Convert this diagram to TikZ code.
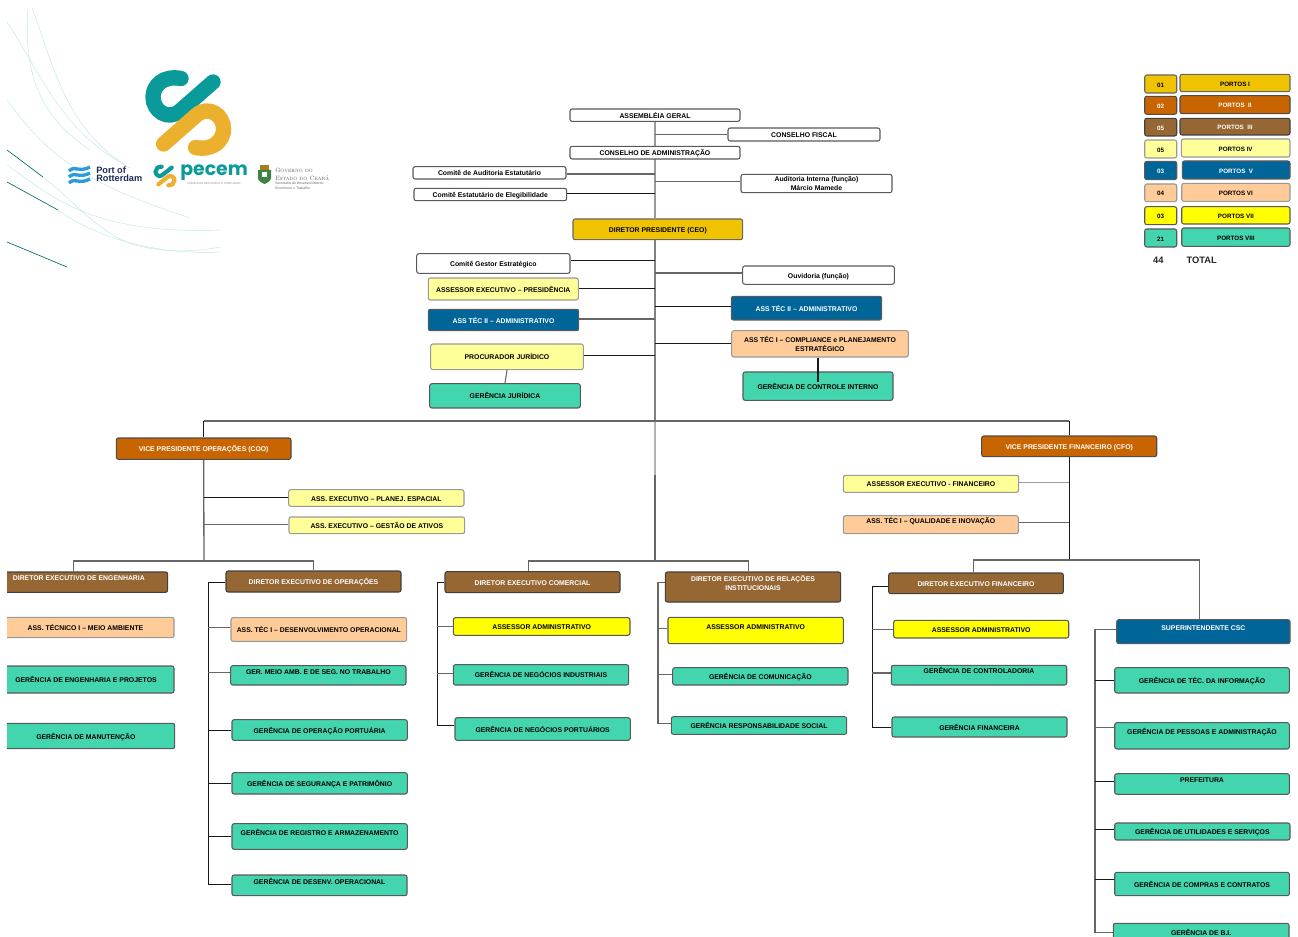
\documentclass[tikz,border=0pt]{standalone}
\usepackage{fontspec}
\usepackage{xcolor}
\newfontfamily\orgsans{Liberation Sans}
\newfontfamily\logosans{Poppins}
\usetikzlibrary{backgrounds}

\definecolor{ptgold}{HTML}{F0C300}
\definecolor{ptorange}{HTML}{C96500}
\definecolor{ptbrown}{HTML}{966633}
\definecolor{ptpale}{HTML}{FFFF99}
\definecolor{ptblue}{HTML}{006699}
\definecolor{ptpeach}{HTML}{FFCC99}
\definecolor{ptyellow}{HTML}{FFFF00}
\definecolor{ptteal}{HTML}{43D6AE}
\definecolor{logoteal}{HTML}{0A9A9A}
\definecolor{logogold}{HTML}{EBB12E}
\definecolor{logoblue}{HTML}{2A9BDC}
\definecolor{logonavy}{HTML}{1B2A56}

\tikzset{
  orgbox/.style={rectangle, rounded corners=1.6pt, inner sep=0pt, align=center, line width=0.8pt,
    text height=4.6pt, text depth=0pt, font=\orgsans\bfseries\fontsize{5.15}{6.7}\selectfont},
  whitebox/.style={draw=black!65, fill=white, text=black},
  goldbox/.style={draw=black!60, fill=ptgold, text=black},
  orangebox/.style={draw=black!70, fill=ptorange, text=white},
  brownbox/.style={draw=black!75, fill=ptbrown, text=white},
  palebox/.style={draw=black!40, fill=ptpale, text=black},
  bluebox/.style={draw=black!65, fill=ptblue, text=white},
  peachbox/.style={draw=black!40, fill=ptpeach, text=black},
  yellowbox/.style={draw=black!65, fill=ptyellow, text=black},
  tealbox/.style={draw=black!65, fill=ptteal, text=black},
  raised/.style={text depth=#1},
  twolines/.style={text height=, text depth=},
  legendfont/.style={font=\orgsans\bfseries\fontsize{4.7}{6.1}\selectfont},
  link/.style={draw=black!60, line width=0.8pt},
  linkdark/.style={draw=black!90, line width=0.7pt},
  linklight/.style={draw=black!30, line width=0.8pt},
  swoosh/.style={draw=logoteal!25, line width=0.35pt},
  swooshdark/.style={draw=logoteal!70!black, line width=0.5pt},
  markteal/.style={draw=logoteal, line cap=round},
  markgold/.style={draw=logogold, line cap=round},
  waveline/.style={draw=logoblue, line width=2.5pt},
  legendtotal/.style={inner sep=0pt, text=black!85, font=\orgsans\bfseries\fontsize{7}{8}\selectfont}
}

% x1 x2 y1 y2 are pixels of the picture
\newcommand{\orgbox}[8][]{%
  \pgfmathsetmacro\boxw{(#5-#4)*0.75}%
  \pgfmathsetmacro\boxh{(#7-#6)*0.75}%
  \node[orgbox, #2, minimum width=\boxw pt, minimum height=\boxh pt, #1] (#3) at ({(#4+#5)/2},{(#6+#7)/2}) {#8};%
}

\begin{document}
\begin{tikzpicture}[x=0.75pt, y=-0.75pt]
  \useasboundingbox (0,0) rectangle (1298,937);
  \clip (0,0) rectangle (1298,937);

  % background lines
  \draw[swoosh] (7,22) .. controls (45,80) and (60,130) .. (130,168);
  \draw[swoosh] (32,8) .. controls (55,70) and (65,125) .. (125,165);
  \draw[swoosh] (28,8) .. controls (25,60) and (30,110) .. (90,150);
  \draw[swoosh] (7,100) .. controls (50,160) and (90,185) .. (190,218);
  \draw[swoosh] (7,165) .. controls (50,195) and (90,235) .. (220,230);
  \draw[swoosh] (43,177) .. controls (70,197) and (100,235) .. (135,245) .. controls (165,253) and (195,252) .. (220,247);
  \draw[swooshdark] (7,150) -- (43,177);
  \draw[swooshdark] (7,182) -- (58,210);
  \draw[swoosh] (58,210) .. controls (100,240) and (160,255) .. (220,252);
  \draw[swooshdark] (7,242) -- (67,267);

  % logos
  \draw[markteal, line width=11.5pt] (181,78.5) .. controls (163,75) and (153,86) .. (153,97)
    .. controls (153,111) and (168,121) .. (180,111) -- (213,82);
  \draw[markgold, line width=11.5pt] (163.6,144) -- (196.6,115) .. controls (208.6,105) and (223.6,115) .. (223.6,129)
    .. controls (223.6,140) and (213.6,151) .. (195.6,147.5);
  \draw[waveline] (69,171) .. controls (75,165) and (79,173) .. (90,167);
  \draw[waveline] (69,177) .. controls (75,171) and (79,179) .. (90,173);
  \draw[waveline] (69,183) .. controls (75,177) and (79,185) .. (90,179);
  \node[anchor=west, inner sep=0pt, text=logonavy, align=left, font=\orgsans\bfseries\fontsize{6.9}{6.1}\selectfont] (rotterdam) at (96,174.5) {Port of\\Rotterdam};
  \draw[markteal, line width=3.1pt] (161.7,166.7) .. controls (158.3,166.3) and (155.5,168.7) .. (155.5,171.7)
    .. controls (155.5,174.7) and (158.8,177.1) .. (161.7,175.5) -- (171.7,167.6);
  \draw[markgold, line width=3.1pt] (158.3,184.4) -- (168.3,176.5) .. controls (171.2,174.9) and (174.5,177.3) .. (174.5,180.3)
    .. controls (174.5,183.3) and (171.7,185.7) .. (168.3,185.3);
  \node[anchor=west, inner sep=0pt, text=logoteal, font=\logosans\bfseries\fontsize{14.2}{15}\selectfont] (pecem) at (180,173) {pecem};
  \node[anchor=west, inner sep=0pt, text=black!45, font=\orgsans\fontsize{2.1}{2.5}\selectfont] (pecemsub) at (187,183) {COMPLEXO INDUSTRIAL E PORTUÁRIO};
  \fill[fill=green!35!black!75] (258,170) -- (271,170) -- (271,178) .. controls (271,181) and (267,183) .. (264.5,184) .. controls (262,183) and (258,181) .. (258,178) -- cycle;
  \fill[fill=logogold!70!black] (260,165) rectangle (269,170);
  \fill[fill=white] (262,172) rectangle (267,177);
  \node[anchor=west, inner sep=0pt, text=black!65, align=left, font=\fontsize{4.6}{5.7}\selectfont] (ceara) at (275,174.5) {\textsc{Governo do}\\\textsc{Estado do Ceará}};
  \node[anchor=west, inner sep=0pt, text=black!60, align=left, font=\orgsans\fontsize{2.6}{3.4}\selectfont] (cearasub) at (275,186) {Secretaria do Desenvolvimento\\Econômico e Trabalho};

  % top of the chart
  \orgbox{whitebox}{asm}{570}{740}{109}{121.3}{ASSEMBLÉIA GERAL}
  \orgbox{whitebox}{fisc}{728}{880}{128}{141}{CONSELHO FISCAL}
  \orgbox{whitebox}{cadm}{570}{740}{146.3}{159}{CONSELHO DE ADMINISTRAÇÃO}
  \orgbox{whitebox}{caud}{413}{566}{166.7}{179}{Comitê de Auditoria Estatutário}
  \orgbox{whitebox}{cele}{414}{566.7}{188.3}{200.7}{Comitê Estatutário de Elegibilidade}
  \orgbox[twolines]{whitebox}{audi}{741}{892}{174.3}{192.7}{Auditoria Interna (função)\\Márcio Mamede}
  \orgbox{goldbox}{ceo}{573}{742.7}{219}{239.7}{DIRETOR PRESIDENTE (CEO)}
  \orgbox{whitebox}{cges}{416.7}{570}{253.7}{273.3}{Comitê Gestor Estratégico}
  \orgbox{whitebox}{ouv}{742.7}{894.3}{266}{284.3}{Ouvidoria (função)}
  \orgbox{palebox}{aexp}{428.3}{578.3}{278}{300}{ASSESSOR EXECUTIVO – PRESIDÊNCIA}
  \orgbox{bluebox}{atad}{428.3}{578.7}{309.3}{330.7}{ASS TÉC II – ADMINISTRATIVO}
  \orgbox{bluebox}{atae}{731.3}{881.7}{296.3}{320}{ASS TÉC II – ADMINISTRATIVO}
  \orgbox[twolines]{peachbox}{atcp}{731.7}{908.3}{330.7}{357}{ASS TÉC I – COMPLIANCE e PLANEJAMENTO\\ESTRATÉGICO}
  \orgbox{palebox}{proc}{430.7}{583.3}{344}{369.7}{PROCURADOR JURÍDICO}
  \orgbox{tealbox}{gjur}{429.7}{580.3}{383.7}{408}{GERÊNCIA JURÍDICA}
  \orgbox{tealbox}{gint}{743}{893}{372}{400.3}{GERÊNCIA DE CONTROLE INTERNO}

  % vice presidents
  \orgbox{orangebox}{coo}{116.3}{291}{438}{459.3}{VICE PRESIDENTE OPERAÇÕES (COO)}
  \orgbox{orangebox}{cfo}{981.7}{1156.7}{436}{456.7}{VICE PRESIDENTE FINANCEIRO (CFO)}
  \orgbox{palebox}{aspl}{288.7}{464}{489.7}{506.3}{ASS. EXECUTIVO – PLANEJ. ESPACIAL}
  \orgbox{palebox}{asga}{289}{464.7}{517}{533.7}{ASS. EXECUTIVO – GESTÃO DE ATIVOS}
  \orgbox{palebox}{aefi}{843.3}{1018.7}{475.3}{492.3}{ASSESSOR EXECUTIVO - FINANCEIRO}
  \orgbox[raised=6pt]{peachbox}{atqi}{843.3}{1018.3}{515.7}{533.7}{ASS. TÉC I – QUALIDADE E INOVAÇÃO}

  % engenharia
  \orgbox[raised=6.6pt]{brownbox}{deng}{-10}{167.7}{572}{592.3}{DIRETOR EXECUTIVO DE ENGENHARIA}
  \orgbox{peachbox}{atma}{-3}{174}{617.3}{637.7}{ASS. TÉCNICO I – MEIO AMBIENTE}
  \orgbox{tealbox}{gep}{-2}{174}{666}{693}{GERÊNCIA DE ENGENHARIA E PROJETOS}
  \orgbox{tealbox}{gman}{-3}{174.7}{723.3}{748.7}{GERÊNCIA DE MANUTENÇÃO}

  % operacoes
  \orgbox{brownbox}{dop}{226}{401}{571}{592}{DIRETOR EXECUTIVO DE OPERAÇÕES}
  \orgbox{peachbox}{atdo}{231}{406.7}{617.7}{641.3}{ASS. TÉC I – DESENVOLVIMENTO OPERACIONAL}
  \orgbox[raised=5.4pt]{tealbox}{gmas}{230.7}{406}{665.7}{685}{GER. MEIO AMB. E DE SEG. NO TRABALHO}
  \orgbox{tealbox}{gop}{232}{407.3}{719.7}{740.3}{GERÊNCIA DE OPERAÇÃO PORTUÁRIA}
  \orgbox{tealbox}{gseg}{232}{407.3}{772.7}{794}{GERÊNCIA DE SEGURANÇA E PATRIMÔNIO}
  \orgbox[raised=6pt]{tealbox}{greg}{232}{407.3}{823.7}{849.3}{GERÊNCIA DE REGISTRO E ARMAZENAMENTO}
  \orgbox[raised=6pt]{tealbox}{gdes}{232}{407}{875}{895.7}{GERÊNCIA DE DESENV. OPERACIONAL}

  % comercial
  \orgbox{brownbox}{dcom}{445}{620}{571.7}{592.7}{DIRETOR EXECUTIVO COMERCIAL}
  \orgbox{yellowbox}{amc}{453.3}{630}{617.7}{635.3}{ASSESSOR ADMINISTRATIVO}
  \orgbox{tealbox}{gind}{453.3}{628.7}{664.7}{685}{GERÊNCIA DE NEGÓCIOS INDUSTRIAIS}
  \orgbox{tealbox}{gpor}{455}{630.3}{717.7}{740.3}{GERÊNCIA DE NEGÓCIOS PORTUÁRIOS}

  % relacoes
  \orgbox[twolines]{brownbox}{drel}{665.3}{840.7}{572}{602}{DIRETOR EXECUTIVO DE RELAÇÕES\\INSTITUCIONAIS\\[-0.7pt]\mbox{}}
  \orgbox[raised=5.7pt]{yellowbox}{amr}{668}{843.3}{617.3}{643.7}{ASSESSOR ADMINISTRATIVO}
  \orgbox{tealbox}{gcom}{672.7}{848}{667.7}{685}{GERÊNCIA DE COMUNICAÇÃO}
  \orgbox{tealbox}{gres}{671.3}{846.7}{716.7}{734.3}{GERÊNCIA RESPONSABILIDADE SOCIAL}

  % financeiro
  \orgbox{brownbox}{dfin}{888.7}{1063.3}{573}{593.7}{DIRETOR EXECUTIVO FINANCEIRO}
  \orgbox{yellowbox}{amf}{893.7}{1068.7}{620.3}{638}{ASSESSOR ADMINISTRATIVO}
  \orgbox[raised=6.6pt]{tealbox}{gctl}{891.3}{1066.7}{665.3}{685}{GERÊNCIA DE CONTROLADORIA}
  \orgbox{tealbox}{gfin}{892}{1067}{717}{737}{GERÊNCIA FINANCEIRA}

  % csc
  \orgbox[raised=6pt]{bluebox}{sup}{1116.7}{1290}{619.7}{643.7}{SUPERINTENDENTE CSC}
  \orgbox{tealbox}{gti}{1114.7}{1289.3}{667.7}{693}{GERÊNCIA DE TÉC. DA INFORMAÇÃO}
  \orgbox[raised=6.6pt]{tealbox}{gpes}{1114.7}{1289.3}{722.7}{749}{GERÊNCIA DE PESSOAS E ADMINISTRAÇÃO}
  \orgbox[raised=7pt]{tealbox}{pref}{1114.7}{1289.3}{773.7}{794.3}{PREFEITURA}
  \orgbox{tealbox}{guti}{1114.7}{1290}{823}{840}{GERÊNCIA DE UTILIDADES E SERVIÇOS}
  \orgbox{tealbox}{gcmp}{1114.7}{1289.3}{872.3}{895.7}{GERÊNCIA DE COMPRAS E CONTRATOS}
  \orgbox{tealbox}{gbi}{1113.3}{1289}{923.3}{941.3}{GERÊNCIA DE B.I.}

  % legend
  \orgbox[legendfont]{goldbox}{numa}{1144.7}{1176.7}{75}{93}{01}
  \orgbox[legendfont]{goldbox}{porta}{1180}{1290}{74.3}{91.7}{PORTOS I}
  \orgbox[legendfont]{orangebox}{numb}{1144.7}{1176.7}{96.3}{114.3}{02}
  \orgbox[legendfont]{orangebox}{portb}{1180}{1290}{95.7}{113.7}{PORTOS~~II}
  \orgbox[legendfont]{brownbox}{numc}{1144.7}{1176.7}{118.3}{136}{05}
  \orgbox[legendfont]{brownbox}{portc}{1180}{1290}{118.3}{135}{PORTOS~~III}
  \orgbox[legendfont]{palebox}{numd}{1144.7}{1176.7}{140}{158}{05}
  \orgbox[legendfont]{palebox}{portd}{1181.3}{1290}{139}{157}{PORTOS IV}
  \orgbox[legendfont]{bluebox}{nume}{1144.7}{1176.7}{161.3}{179.7}{03}
  \orgbox[legendfont]{bluebox}{porte}{1182.3}{1290}{161}{179}{PORTOS~~V}
  \orgbox[legendfont]{peachbox}{numf}{1144.7}{1176.7}{184}{201.7}{04}
  \orgbox[legendfont]{peachbox}{portf}{1181.7}{1290}{183.3}{201.3}{PORTOS VI}
  \orgbox[legendfont]{yellowbox}{numg}{1144.7}{1176.7}{206.7}{224.7}{03}
  \orgbox[legendfont]{yellowbox}{portg}{1181.7}{1290}{206.7}{224}{PORTOS VII}
  \orgbox[legendfont]{tealbox}{numh}{1144.7}{1176.7}{229}{247}{21}
  \orgbox[legendfont]{tealbox}{porth}{1181.7}{1290}{228}{246.3}{PORTOS VIII}
  \node[legendtotal] (sumall) at (1158.3,260.7) {44};
  \node[legendtotal] (sumtext) at (1201.7,260.7) {TOTAL};

  % trunk and bars
  \coordinate (trunk) at (655,240);
  \coordinate (topbar) at (655,421);
  \coordinate (trunkmid) at (655,475);
  \coordinate (midbar) at (655,561);
  \coordinate (coobar) at (204,561);
  \coordinate (cfobar) at (1069.2,560);

  \begin{scope}[on background layer]
    \draw[link, draw=black!40, line width=1.1pt] (asm.south) -- (asm.south |- ceo.north);
    \draw[link, draw=black!50, line width=1pt] (trunk) -- (topbar);
    \draw[linklight, line width=1.1pt] (topbar) -- (trunkmid);
    \draw[link, line width=1.1pt] (trunkmid) -- (midbar);
    \draw[link, line width=1pt] (coo.north |- topbar) -- (cfo.north |- topbar);
    \draw[linkdark] (coo.north |- topbar) -- (coo.north);
    \draw[linkdark] (cfo.north |- topbar) -- (cfo.north);
    \draw[link, line width=1pt] (coo.south) -- (coobar);
    \draw[linkdark, line width=0.9pt] (cfo.south) -- (cfobar);
    \draw[link] (deng.north -| 73.3,0) -- (coobar -| 73.3,0) -- (coobar -| 313.3,0) -- (dop.north -| 313.3,0);
    \draw[link] (dcom.north -| 528.7,0) -- (midbar -| 528.7,0) -- (midbar -| 748.3,0) -- (drel.north -| 748.3,0);
    \draw[link] (dfin.north -| 973.3,0) -- (cfobar -| 973.3,0) -- (cfobar -| 1199.3,0) -- (sup.north -| 1199.3,0);

    % links of the top part
    \draw[link] (fisc.west |- 0,134.7) -- (asm.south |- 0,134.7);
    \draw[link] (caud.east |- 0,174) -- (trunk |- 0,174);
    \draw[linkdark] (cele.east |- 0,193.7) -- (trunk |- 0,193.7);
    \draw[link] (audi.west |- 0,181.7) -- (trunk |- 0,181.7);
    \draw[linkdark] (cges.east |- 0,260.3) -- (trunk |- 0,260.3);
    \draw[link] (ouv.west |- 0,273) -- (trunk |- 0,273);
    \draw[linkdark] (aexp.east |- 0,288.7) -- (trunk |- 0,288.7);
    \draw[link] (atad.east |- 0,319) -- (trunk |- 0,319);
    \draw[linkdark] (atae.west |- 0,306.3) -- (trunk |- 0,306.3);
    \draw[linkdark] (atcp.west |- 0,343.3) -- (trunk |- 0,343.3);
    \draw[linkdark] (proc.east |- 0,355.3) -- (trunk |- 0,355.3);
    \draw[link] (proc.south) -- (gjur.north);

    % links of the vice presidents
    \draw[linkdark] (aspl.west |- 0,497.3) -- (coo.south |- 0,497.3);
    \draw[link] (asga.west |- 0,524.7) -- (coo.south |- 0,524.7);
    \draw[linklight, draw=black!40] (aefi.east |- 0,482.3) -- (cfo.south |- 0,482.3);
    \draw[link] (atqi.east |- 0,522.7) -- (cfo.south |- 0,522.7);

    % links of the directors
    \draw[linkdark] (dop.west |- 0,582.3) -- (208.3,582.3) -- (208.3,884.3) -- (gdes.west |- 0,884.3);
    \draw[link] (atdo.west |- 0,627.7) -- (208.3,627.7);
    \draw[link] (gmas.west |- 0,672.7) -- (208.3,672.7);
    \draw[linkdark] (gop.west |- 0,730.3) -- (208.3,730.3);
    \draw[linkdark] (gseg.west |- 0,783.3) -- (208.3,783.3);
    \draw[linkdark] (greg.west |- 0,836.3) -- (208.3,836.3);

    \draw[linkdark] (dcom.west |- 0,582.3) -- (437.3,582.3) -- (437.3,725.7) -- (gpor.west |- 0,725.7);
    \draw[link] (amc.west |- 0,626.7) -- (437.3,626.7);
    \draw[link] (gind.west |- 0,673.7) -- (437.3,673.7);

    \draw[link] (drel.west |- 0,582.3) -- (658,582.3) -- (658,723.7) -- (gres.west |- 0,723.7);
    \draw[link] (amr.west |- 0,628.3) -- (658,628.3);
    \draw[link] (gcom.west |- 0,674.7) -- (657,674.7);

    \draw[linkdark] (dfin.west |- 0,586) -- (872.3,586) -- (872.3,727.3) -- (gfin.west |- 0,727.3);
    \draw[link] (amf.west |- 0,629.7) -- (872.3,629.7);
    \draw[link] (gctl.west |- 0,673) -- (872.3,673);

    \draw[link] (sup.west |- 0,629.3) -- (1095,629.3) -- (1095,932.3) -- (gbi.west |- 0,932.3);
    \draw[linkdark] (gti.west |- 0,680.3) -- (1095,680.3);
    \draw[link] (gpes.west |- 0,727.3) -- (1095,727.3);
    \draw[linkdark] (pref.west |- 0,781.3) -- (1095,781.3);
    \draw[linkdark] (guti.west |- 0,829.3) -- (1095,829.3);
    \draw[linkdark] (gcmp.west |- 0,879.3) -- (1095,879.3);
  \end{scope}
  \draw[linkdark, line width=0.9pt] (gint.north |- atcp.south) -- (gint.north |- 0,382);

  % white strip on the left edge
  \fill[white] (0,0) rectangle (7,937);
\end{tikzpicture}
\end{document}
